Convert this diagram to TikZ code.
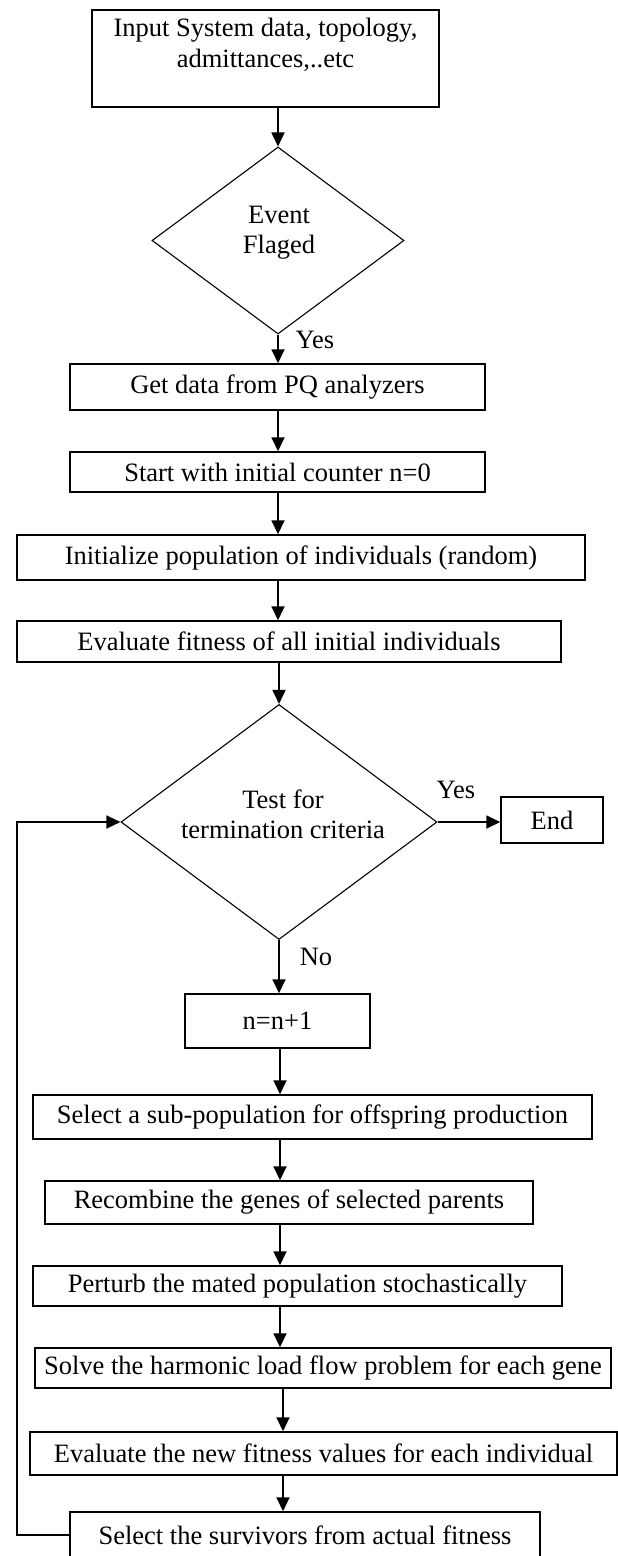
\documentclass[tikz,border=0pt]{standalone}
\usepackage{fontspec}
\setmainfont{Liberation Serif}
\usetikzlibrary{shapes.geometric,arrows.meta}
\newcommand{\diagfont}{\fontsize{26.5}{31}\selectfont}
\begin{document}
\begin{tikzpicture}[x=1pt,y=-1pt,
  box/.style={draw,line width=1.5pt,inner sep=0pt,align=center,font=\diagfont},
  dia/.style={draw,diamond,line width=1.1pt,inner sep=0pt},
  txt/.style={align=center,font=\diagfont,inner sep=0pt},
  arr/.style={line width=1.8pt,-{Triangle[length=14pt,width=13pt]}},
  fback/.style={line width=1.3pt,-{Triangle[length=14pt,width=13pt]}}
]
\useasboundingbox (0,0) rectangle (618,1556);
\clip (0,0) rectangle (618,1556);

\coordinate (ax) at (278,0);
\coordinate (bx) at (280,0);
\coordinate (cx) at (283,0);
\coordinate (fb) at (17,0);

\node[box,minimum width=347pt,minimum height=97pt] (b1) at (265.5,58.5) {Input System data, topology,\\admittances,..etc\\\mbox{}};
\node[dia,minimum width=252pt,minimum height=187pt] (d1) at (278,240.5) {};
\node[txt] (d1t) at (279,233) {Event\\[-1pt]Flaged};
\node[box,minimum width=415pt,minimum height=46pt] (b2) at (277.5,387) {Get data from PQ analyzers};
\node[box,minimum width=415pt,minimum height=40pt] (b3) at (277.5,472) {Start with initial counter n=0};
\node[box,minimum width=568pt,minimum height=45pt] (b4) at (301,557.5) {Initialize population of individuals (random)};
\node[box,minimum width=544pt,minimum height=41pt] (b5) at (289,641.5) {Evaluate fitness of all initial individuals};
\node[dia,minimum width=316pt,minimum height=235pt] (d2) at (279,822) {};
\node[txt] (d2t) at (283,814) {Test for\\[-1pt]termination criteria};
\node[box,minimum width=102pt,minimum height=46pt] (end) at (552,820) {End};
\node[box,minimum width=185pt,minimum height=54pt] (b6) at (277.5,1021) {n=n+1};
\node[box,minimum width=559pt,minimum height=44pt] (b7) at (312.5,1117) {Select a sub-population for offspring production};
\node[box,minimum width=488pt,minimum height=43pt] (b8) at (289,1202.5) {Recombine the genes of selected parents};
\node[box,minimum width=529pt,minimum height=40pt] (b9) at (297.5,1286) {Perturb the mated population stochastically};
\node[box,minimum width=576pt,minimum height=40pt] (b10) at (323,1368) {Solve the harmonic load flow problem for each gene};
\node[box,minimum width=587pt,minimum height=43pt] (b11) at (323.5,1453.5) {Evaluate the new fitness values for each individual};
\node[box,minimum width=470pt,minimum height=46pt] (b12) at (305,1535) {Select the survivors from actual fitness};

\node[txt] (yes1) at (315,340) {Yes};
\node[txt] (yes2) at (456,790) {Yes};
\node[txt] (no) at (316,957) {No};

\draw[arr] (b1.south -| d1.north) -- (d1.north);
\draw[arr] (d1.south) -- (b2.north -| d1.south);
\draw[arr] (b2.south -| ax) -- (b3.north -| ax);
\draw[arr] (b3.south -| ax) -- (b4.north -| ax);
\draw[arr] (b4.south -| ax) -- (b5.north -| ax);
\draw[arr] (b5.south -| d2.north) -- (d2.north);
\draw[arr] (d2.east) -- (end.west |- d2.east);
\draw[arr] (d2.south) -- (b6.north -| d2.south);
\draw[arr] (b6.south -| bx) -- (b7.north -| bx);
\draw[arr] (b7.south -| bx) -- (b8.north -| bx);
\draw[arr] (b8.south -| bx) -- (b9.north -| bx);
\draw[arr] (b9.south -| bx) -- (b10.north -| bx);
\draw[arr] (b10.south -| cx) -- (b11.north -| cx);
\draw[arr] (b11.south -| cx) -- (b12.north -| cx);
\draw[fback] (b12.west) -| (fb |- d2.west) -- (d2.west);
\end{tikzpicture}
\end{document}
